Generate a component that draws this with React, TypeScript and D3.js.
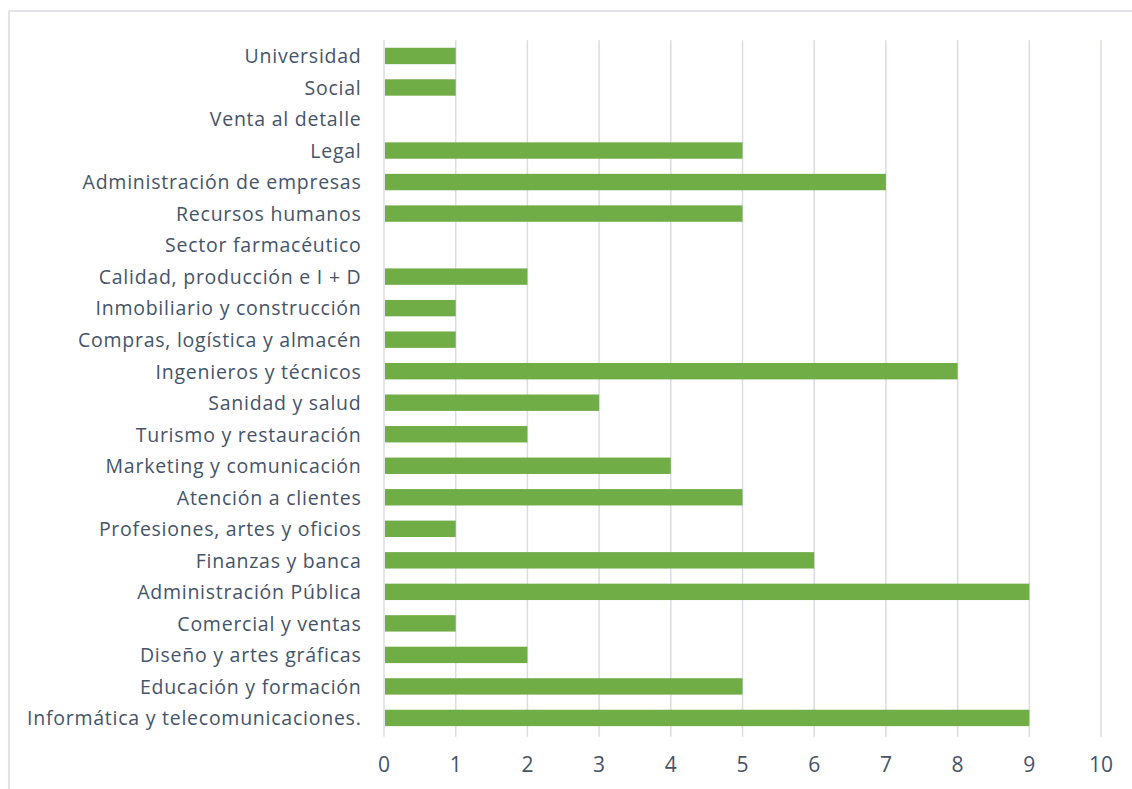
import React, { useEffect, useRef } from "react";
import * as d3 from "d3";

const categories: string[] = [
  "Universidad",
  "Social",
  "Venta al detalle",
  "Legal",
  "Administración de empresas",
  "Recursos humanos",
  "Sector farmacéutico",
  "Calidad, producción e I + D",
  "Inmobiliario y construcción",
  "Compras, logística y almacén",
  "Ingenieros y técnicos",
  "Sanidad y salud",
  "Turismo y restauración",
  "Marketing y comunicación",
  "Atención a clientes",
  "Profesiones, artes y oficios",
  "Finanzas y banca",
  "Administración Pública",
  "Comercial y ventas",
  "Diseño y artes gráficas",
  "Educación y formación",
  "Informática y telecomunicaciones.",
];

const values: number[] = [1, 1, 0, 5, 7, 5, 0, 2, 1, 1, 8, 3, 2, 4, 5, 1, 6, 9, 1, 2, 5, 9];

const xTicks: number[] = [0, 1, 2, 3, 4, 5, 6, 7, 8, 9, 10];

const W = 1132;
const H = 789;
const FONT = "'Open Sans', 'Noto Sans', sans-serif";
const TEXT = "#44546A";
const GRID = "#D9DCE3";
const GREEN = "#70AD47";

export default function App() {
  const ref = useRef<SVGSVGElement>(null);

  useEffect(() => {
    const svg = d3.select(ref.current);
    svg.selectAll("*").remove();

    const left = 384;
    const right = 1101;
    const top = 40.2;
    const bottom = 733.7;

    const x = d3.scaleLinear().domain([0, 10]).range([left, right]);
    const y = d3.scaleBand<string>().domain(categories).range([top, bottom]).paddingInner(0.48).paddingOuter(0.24);

    // frame
    svg
      .append("rect")
      .attr("x", 9)
      .attr("y", 11)
      .attr("width", W + 20)
      .attr("height", H + 20)
      .attr("fill", "#fff")
      .attr("stroke", GRID)
      .attr("stroke-width", 1.5);

    // gridlines
    svg
      .append("g")
      .selectAll("line")
      .data(xTicks)
      .join("line")
      .attr("x1", (d) => x(d))
      .attr("x2", (d) => x(d))
      .attr("y1", top)
      .attr("y2", bottom + 3)
      .attr("stroke", GRID)
      .attr("stroke-width", 1.5);

    // bars
    svg
      .append("g")
      .selectAll("rect")
      .data(values)
      .join("rect")
      .attr("x", x(0) + 1)
      .attr("y", (_, i) => y(categories[i])!)
      .attr("width", (d) => Math.max(0, x(d) - x(0) - 1))
      .attr("height", y.bandwidth())
      .attr("fill", GREEN)
      .attr("display", (d) => (d === 0 ? "none" : null));

    // category labels
    svg
      .append("g")
      .selectAll("text")
      .data(categories)
      .join("text")
      .attr("x", left - 22.5)
      .attr("y", (d) => y(d)! + y.bandwidth() / 2 + 0.5)
      .attr("dy", "0.35em")
      .attr("text-anchor", "end")
      .attr("font-family", FONT)
      .attr("font-size", 19.5)
      .attr("letter-spacing", 0.75)
      .attr("fill", TEXT)
      .text((d) => d);

    // x tick labels
    svg
      .append("g")
      .selectAll("text")
      .data(xTicks)
      .join("text")
      .attr("x", (d) => x(d))
      .attr("y", 764.5)
      .attr("dy", "0.35em")
      .attr("text-anchor", "middle")
      .attr("font-family", FONT)
      .attr("font-size", 21)
      .attr("fill", TEXT)
      .text((d) => String(d));
  }, []);

  return (
    <svg
      ref={ref}
      width={W}
      height={H}
      style={{ position: "absolute", left: 0, top: 0, display: "block" }}
    />
  );
}
